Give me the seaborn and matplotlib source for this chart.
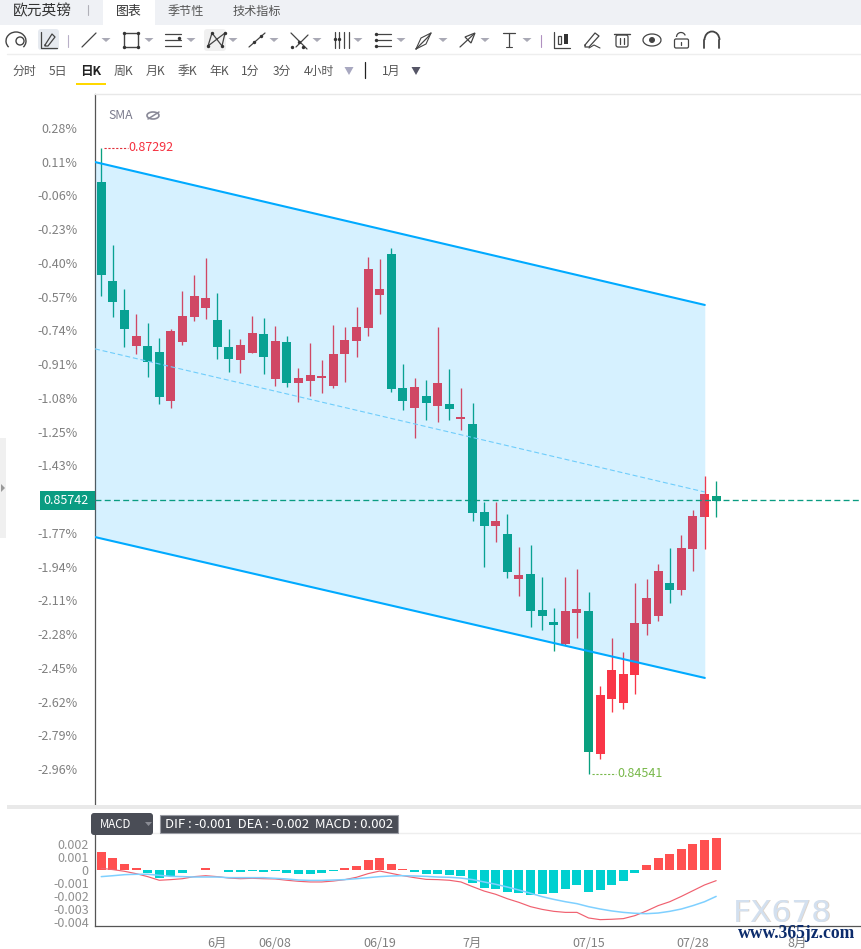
import matplotlib
matplotlib.use("Agg")
import matplotlib.pyplot as plt
from matplotlib.patches import Rectangle, FancyBboxPatch, Circle, Arc, Polygon
import numpy as np
import pandas as pd
import seaborn as sns

# daily candles, EUR/GBP
opens = [.87143, .86707, .86580, .86422, .86422, .86395, .86180, .86439, .86549, .86589,
         .86536, .86417, .86360, .86391, .86475, .86277, .86439, .86259, .86268, .86281,
         .86246, .86387, .86444, .86501, .86646, .86826, .86237, .86149, .86202, .86158,
         .86167, .86101, .86079, .85692, .85631, .85596, .85398, .85420, .85262, .85209,
         .85112, .85248, .85257, .84629, .84870, .84853, .84976, .85200, .85235, .85380,
         .85349, .85530, .85670, .85763]
highs = [.87292, .86866, .86672, .86562, .86523, .86457, .86496, .86664, .86734, .86809,
         .86655, .86496, .86453, .86554, .86545, .86510, .86466, .86325, .86435, .86360,
         .86514, .86505, .86593, .86813, .86804, .86853, .86343, .86281, .86272, .86505,
         .86321, .86237, .86171, .85736, .85736, .85683, .85538, .85547, .85407, .85270,
         .85407, .85442, .85341, .84927, .85138, .85077, .85380, .85398, .85464, .85534,
         .85591, .85701, .85850, .85829]
lows = [.86642, .86549, .86417, .86387, .86286, .86167, .86149, .86426, .86532, .86540,
        .86365, .86308, .86303, .86391, .86299, .86246, .86242, .86176, .86202, .86215,
        .86237, .86264, .86373, .86466, .86562, .86220, .86141, .86017, .86097, .86088,
        .86097, .86053, .85653, .85450, .85560, .85402, .85323, .85187, .85174, .85081,
        .85108, .85138, .84541, .84607, .84813, .84826, .84892, .85152, .85213, .85292,
        .85327, .85433, .85530, .85670]
closes = [.86734, .86615, .86496, .86466, .86351, .86198, .86488, .86554, .86642, .86633,
          .86417, .86365, .86426, .86479, .86373, .86444, .86259, .86281, .86294, .86290,
          .86387, .86448, .86505, .86760, .86672, .86233, .86180, .86242, .86171, .86259,
          .86145, .86110, .85688, .85631, .85653, .85429, .85415, .85257, .85235, .85196,
          .85257, .85266, .84637, .84888, .84998, .84980, .85204, .85314, .85433, .85349,
          .85534, .85675, .85771, .85741]

# MACD panel
macd = [.00138, .00092, .00046, .00015, -.00023, -.00062, -.00046, -.00023, .00002, .00015,
        .00001, -.00015, -.00015, -.00008, -.00015, -.00008, -.00023, -.00031, -.00031, -.00023,
        -.00008, .00015, .00031, .00077, .00092, .00046, .00008, -.00015, -.00031, -.00031,
        -.00038, -.00046, -.00100, -.00138, -.00146, -.00169, -.00177, -.00192, -.00185, -.00177,
        -.00146, -.00115, -.00169, -.00154, -.00115, -.00085, -.00023, .00038, .00092, .00123,
        .00162, .00200, .00231, .00246]
dif = [.00013, .00003, -.00010, -.00028, -.00051, -.00079, -.00074, -.00067, -.00051, -.00044,
       -.00051, -.00062, -.00067, -.00064, -.00067, -.00069, -.00079, -.00087, -.00092, -.00092,
       -.00085, -.00074, -.00056, -.00028, -.00008, -.00026, -.00044, -.00059, -.00072, -.00074,
       -.00079, -.00092, -.00128, -.00162, -.00187, -.00221, -.00249, -.00282, -.00303, -.00318,
       -.00326, -.00326, -.00369, -.00382, -.00379, -.00374, -.00351, -.00315, -.00274, -.00244,
       -.00203, -.00159, -.00115, -.00082]
dea = [-.00051, -.00044, -.00036, -.00033, -.00033, -.00041, -.00049, -.00051, -.00054, -.00054,
       -.00054, -.00059, -.00059, -.00059, -.00059, -.00064, -.00069, -.00077, -.00080, -.00080,
       -.00077, -.00074, -.00067, -.00059, -.00051, -.00046, -.00044, -.00046, -.00049, -.00054,
       -.00056, -.00062, -.00074, -.00092, -.00110, -.00131, -.00154, -.00179, -.00205, -.00226,
       -.00244, -.00259, -.00282, -.00300, -.00315, -.00326, -.00333, -.00336, -.00331, -.00318,
       -.00300, -.00274, -.00244, -.00203]

# regression channel drawn on the chart
channel_x = [-0.54, 52.02]
channel_top = [.87230, .86602]
channel_mid = [.86409, .85780]
channel_bottom = [.85582, .84963]

last_price = .85742
high_label, low_label = "0.87292", "0.84541"

pct_ticks = [.87380, .87232, .87083, .86935, .86787, .86638, .86490, .86342, .86194, .86045,
             .85897, .85600, .85452, .85304, .85156, .85007, .84859, .84711, .84562]
pct_labels = ["0.28%", "0.11%", "-0.06%", "-0.23%", "-0.40%", "-0.57%", "-0.74%", "-0.91%",
              "-1.08%", "-1.25%", "-1.43%", "-1.77%", "-1.94%", "-2.11%", "-2.28%", "-2.45%",
              "-2.62%", "-2.79%", "-2.96%"]
macd_ticks = [.002, .001, 0, -.001, -.002, -.003, -.004]
macd_tick_labels = ["0.002", "0.001", "0", "-0.001", "-0.002", "-0.003", "-0.004"]
date_ticks = [10, 15, 24, 32, 42, 51, 60]
date_labels = ["6月", "06/08", "06/19", "7月", "07/15", "07/28", "8月"]

tabs = ["季节性", "技术指标"]
periods = ["分时", "5日", "日K", "周K", "月K", "季K", "年K", "1分", "3分", "4小时"]
period_x = [24.5, 58, 90.5, 123.5, 155.5, 187.5, 219.5, 250.5, 281.5, 319]

RED = "#f93648"
GREEN = "#0aa07f"
BLUE = "#00aaff"
W, H = 862, 949

sns.set_theme(style="white")
plt.rcParams['font.family'] = ['Noto Sans CJK SC', 'DejaVu Sans']

fig = plt.figure(figsize=(W / 100, H / 100), dpi=100, facecolor="white")


def px_axes(left, top, right, bottom, **kw):
    return fig.add_axes([left / W, 1 - bottom / H, (right - left) / W, (bottom - top) / H], **kw)


ax = px_axes(95, 94, W, 804)
ax_macd = px_axes(95, 833, W, 926)
ui = px_axes(0, 0, W, H, zorder=10)
ui.set_xlim(0, W)
ui.set_ylim(H, 0)
ui.axis("off")
ui.patch.set_alpha(0)

# candles
idx = np.arange(len(opens))
colors = [RED if c >= o else GREEN for o, c in zip(opens, closes)]
ax.vlines(idx, lows, highs, colors=colors, lw=0.95, zorder=2)
ax.bar(idx, np.array(closes) - np.array(opens), bottom=opens, width=0.78, color=colors, lw=0, zorder=2)

# channel sits over the candles, which is why they look paler inside it
ax.fill_between(channel_x, channel_top, channel_bottom, color=(0, 170 / 255, 1), alpha=0.16, lw=0, zorder=3)
ax.plot(channel_x, channel_top, color=BLUE, lw=1.5, zorder=4)
ax.plot(channel_x, channel_bottom, color=BLUE, lw=1.5, zorder=4)
ax.plot(channel_x, channel_mid, color="#6fcdfb", lw=0.8, ls=(0, (4.5, 2.5)), zorder=4)
ax.axhline(last_price + .00002, color="#0a9c82", lw=0.95, ls=(0, (4.5, 2.5)), zorder=4)

ax.set_xlim(-0.54, 65.57)
ax.set_ylim(.84409, .87529)
ax.set_yticks(pct_ticks)
ax.set_yticklabels(pct_labels, fontsize=9, color="#808080")
ax.set_xticks([])
ax.tick_params(axis="y", length=0, pad=12.5)
sns.despine(ax=ax, top=True, right=True, bottom=True)
ax.spines["left"].set_color("#555555")
ax.spines["left"].set_linewidth(0.9)

# high / low markers
ax.plot([0.25, 2.3], [highs[0], highs[0]], color="#e0303a", lw=0.8, ls=(0, (2, 1.5)), zorder=5)
ax.text(2.35, highs[0], high_label, color="#f5303f", fontsize=9, va="center", zorder=5)
ax.plot([42.3, 44.4], [lows[42], lows[42]], color="#78b84a", lw=0.8, ls=(0, (2, 1.5)), zorder=5)
ax.text(44.45, lows[42], low_label, color="#78b84a", fontsize=9, va="center", zorder=5)

# MACD
macd_df = pd.DataFrame({"i": idx, "macd": macd, "side": ["up" if m >= 0 else "down" for m in macd]})
sns.barplot(data=macd_df, x="i", y="macd", hue="side", palette={"up": "#ff5050", "down": "#00d0d0"},
            dodge=False, native_scale=True, width=0.78, saturation=1, legend=False, ax=ax_macd, lw=0, zorder=2)
sns.lineplot(x=idx, y=dif, color="#f0606f", lw=0.85, ax=ax_macd, zorder=3, estimator=None)
sns.lineplot(x=idx, y=dea, color="#7fd0ff", lw=1.1, ax=ax_macd, zorder=3, estimator=None)
ax_macd.set_xlim(-0.54, 65.57)
ax_macd.set_ylim(-.004308, .002846)
ax_macd.set_yticks(macd_ticks)
ax_macd.set_yticklabels(macd_tick_labels, fontsize=9, color="#909090")
ax_macd.set_xticks(date_ticks)
ax_macd.set_xticklabels(date_labels, fontsize=9, color="#808080")
ax_macd.set_xlabel("")
ax_macd.set_ylabel("")
ax_macd.tick_params(length=0)
ax_macd.tick_params(axis="y", pad=4.5)
ax_macd.tick_params(axis="x", pad=8)
sns.despine(ax=ax_macd, top=True, right=True)
for side in ["left", "bottom"]:
    ax_macd.spines[side].set_color("#555555")
    ax_macd.spines[side].set_linewidth(0.9)


# ---- page furniture, all in pixel coordinates on the overlay axes ----
def rect(x0, y0, x1, y1, color, z=1):
    ui.add_patch(Rectangle((x0, y0), x1 - x0, y1 - y0, color=color, lw=0, zorder=z))


def line(xs, ys, color="#444444", lw=0.9, **kw):
    ui.plot(xs, ys, color=color, lw=lw, solid_capstyle="round", **kw)


def dots(xs, ys, color="#333333", s=6):
    ui.scatter(xs, ys, s=s, color=color, lw=0, zorder=4)


def caret(x, y=40, color="#a9a9b5", w=4.5, h=4):
    ui.add_patch(Polygon([(x - w, y - h / 2), (x + w, y - h / 2), (x, y + h / 2)], color=color, lw=0))


def txt(x, y, s, size=9, color="#444444", ha="center", **kw):
    ui.text(x, y, s, fontsize=size, color=color, ha=ha, va="center", **kw)


rect(0, 0, W, 25, "#eff1f5")
rect(103, 0, 155, 25, "white")
txt(42.5, 11, "欧元英镑", size=10.6, color="#333333")
line([88, 88], [5, 15], color="#b0b0b8", lw=0.8)
txt(129, 11, "图表", size=9.3, color="#333333")
txt(186, 11, tabs[0], size=8.7, color="#555555")
txt(256.5, 11, tabs[1], size=8.7, color="#555555")

line([7, W], [54, 54], color="#eeeeee", lw=1)
line([95, W], [93.5, 93.5], color="#e8e8e8", lw=1)
rect(7, 805, W, 808.5, "#e9e9e9")
line([95, W], [833, 833], color="#eeeeee", lw=1)
rect(0, 438, 6, 538, "#f0f0f0")
ui.add_patch(Polygon([(1, 484), (5, 488), (1, 492)], color="#999999", lw=0))

# drawing toolbar icons
ui.add_patch(FancyBboxPatch((38, 29), 21, 21, boxstyle="round,pad=0,rounding_size=3", color="#e6eaf0", lw=0))
ui.add_patch(FancyBboxPatch((204, 29), 22, 22, boxstyle="round,pad=0,rounding_size=3", color="#f0f0f0", lw=0))
ui.add_patch(Arc((16, 41), 20, 18, theta1=140, theta2=400, color="#444444", lw=1.0))
ui.add_patch(Circle((20, 41), 4, fill=False, color="#444444", lw=1.0))
line([41, 41, 57], [32, 48, 48], lw=0.9)
line([45, 52, 55, 48, 45, 45], [45, 34, 37, 46, 46, 45], lw=0.9)
line([68, 68], [35, 47], color="#b8b0c8", lw=0.8)
line([82, 96], [47, 33], lw=0.9)
caret(106)
ui.add_patch(Rectangle((124, 33), 14, 14, fill=False, ec="#444444", lw=1.0))
dots([124, 138, 124, 138], [33, 33, 47, 47])
caret(149)
for yy in [34, 40, 46]:
    line([165, 181], [yy, yy])
dots([179], [37.5])
caret(191)
line([208, 212, 222, 225, 208], [46, 33, 46, 33, 46])
dots([208, 212, 222, 225], [46, 33, 46, 33])
caret(233)
line([249, 265], [47, 33])
dots([254, 261], [42, 36])
caret(274)
line([291, 307], [33, 49])
line([296, 308], [47, 35])
dots([292, 299, 303], [47, 42, 47])
caret(317)
for xx in [335, 339, 344, 349]:
    line([xx, xx], [32, 48])
dots([335, 339], [39, 39])
caret(358)
for yy in [34, 40, 46]:
    line([376, 391], [yy, yy])
dots([376, 376, 376], [34, 40, 46])
caret(401)
line([416, 428, 431], [49, 37, 33])
line([416, 421, 431, 426, 416], [49, 38, 33, 44, 49], lw=0.8)
caret(443)
line([460, 474], [47, 34])
ui.add_patch(Polygon([(475, 33), (465, 37), (471, 43)], fill=False, ec="#444444", lw=0.9))
caret(485)
line([503, 515], [33, 33])
line([509, 509], [33, 47])
line([506, 512], [47, 47], lw=0.8)
caret(527)
line([541, 541], [35, 47], color="#b090c0", lw=0.8)
line([554, 554, 570], [32, 48, 48])
ui.add_patch(Rectangle((558, 36), 3.5, 8, fill=False, ec="#444444", lw=0.9))
rect(564, 34, 568, 44, "#333333", 4)
line([585, 595, 599, 589, 585, 585], [45, 33, 36, 47, 47, 45])
line([589, 594, 600], [48, 45, 48], lw=0.8)
line([614, 630], [34, 34], lw=1.0)
ui.add_patch(FancyBboxPatch((616, 35), 12, 12, boxstyle="round,pad=0,rounding_size=2", fill=False, ec="#444444", lw=0.9))
line([620, 620], [38, 44])
line([624, 624], [38, 44])
ui.add_patch(Arc((652, 40), 18, 12, theta1=0, theta2=360, color="#444444", lw=0.9))
ui.add_patch(Circle((652, 40), 3.0, color="#444444", lw=0))
ui.add_patch(FancyBboxPatch((674.5, 39), 14, 9, boxstyle="round,pad=0,rounding_size=1.5", fill=False, ec="#444444", lw=0.9))
ui.add_patch(Arc((681, 37), 9, 9, theta1=180, theta2=340, color="#444444", lw=0.9))
line([681.5, 681.5], [42, 45])
ui.add_patch(Arc((712, 40), 15, 17, theta1=180, theta2=360, color="#444444", lw=1.3))
line([704.5, 704.5], [40, 48], lw=1.3)
line([719.5, 719.5], [40, 48], lw=1.3)

# period row
for p, xx in zip(periods, period_x):
    if p == "日K":
        txt(xx, 71, p, size=9, color="#222222", fontweight="bold")
    else:
        txt(xx, 71, p, size=8.6, color="#555555")
rect(76, 83, 106, 85, "#ffd800")
caret(349, y=71, color="#a8a8c0", w=4.5, h=8)
line([365, 365], [62, 78], color="#222222", lw=0.9)
txt(391.5, 71, "1月", size=8.6, color="#555555")
caret(416, y=71, color="#555566", w=4.5, h=8)

# indicator tag and price tag
txt(108, 115, "SMA", size=8.8, color="#7a7a8c", ha="left")
ui.add_patch(Arc((153, 115.5), 12, 7, theta1=0, theta2=360, color="#8a8a98", lw=1.2))
line([148, 159], [119, 112], color="#8a8a98", lw=1.1)
rect(40, 491, 95, 510, "#0a9c82", 3)
ui.text(66.5, 500, "0.85742", fontsize=9, color="white", ha="center", va="center", zorder=5)

# MACD button and readout
ui.add_patch(FancyBboxPatch((91, 813), 62, 22, boxstyle="round,pad=0,rounding_size=3", color="#4a4d56", lw=0, zorder=3))
ui.text(116, 825, "MACD", fontsize=8.3, color="white", ha="center", va="center", zorder=5)
ui.add_patch(Polygon([(145, 822), (152, 822), (148.5, 826)], color="#8a8c94", lw=0, zorder=5))
ui.add_patch(Rectangle((160.5, 814.5), 238, 18.5, fc="#4a4d56", ec="#9a9ca4", lw=0.8, zorder=3))
ui.text(279, 824, "DIF : -0.001  DEA : -0.002  MACD : 0.002", fontsize=9.4, color="white",
        ha="center", va="center", zorder=5)

# watermark
ui.text(783, 914, "FX678", fontsize=22.5, color="#c8b8a8", ha="center", va="center", alpha=0.6,
        family="DejaVu Sans", zorder=5)
ui.text(782, 914, "FX678", fontsize=22.5, color="#d3e0ef", ha="center", va="center",
        family="DejaVu Sans", zorder=6)
ui.text(797, 934, "www.365jz.com", fontsize=12.7, color="#0c2c6c", ha="center", va="center",
        family="Liberation Serif", fontweight="bold", zorder=7)

fig.savefig("out.png", dpi=100)
